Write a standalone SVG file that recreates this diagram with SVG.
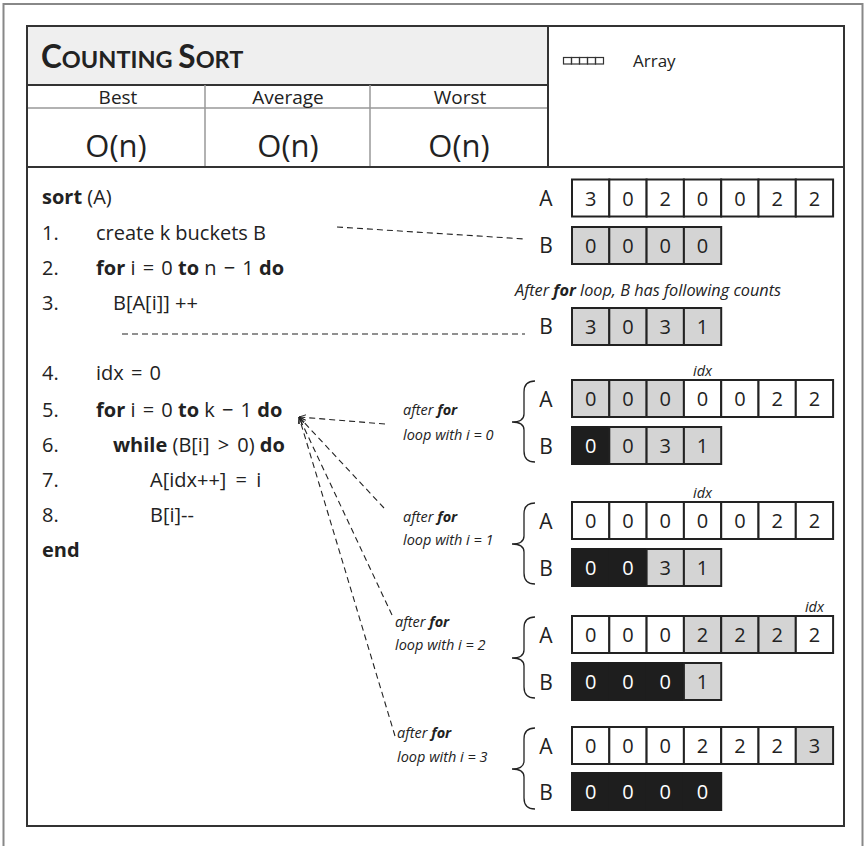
<svg xmlns="http://www.w3.org/2000/svg" width="868" height="846" viewBox="0 0 868 846">
<defs>
<style>
text{font-family:"Open Sans","Noto Sans","Liberation Sans",sans-serif;fill:#222}
.code{font-size:20px}
.b{font-weight:700}
.lbl{font-size:21px;text-anchor:middle}
.d{font-size:20px;text-anchor:middle}
.dw{font-size:20px;text-anchor:middle;fill:#fff}
.w{fill:#fff;stroke:#222;stroke-width:2}
.g{fill:#d4d4d4;stroke:#222;stroke-width:2}
.k{fill:#1e1e1e;stroke:#1e1e1e;stroke-width:2}
.note{font-size:14.5px;font-style:italic}
.cap{font-size:16.3px;font-style:italic}
.brace{fill:none;stroke:#222;stroke-width:1.3}
.dash{fill:none;stroke:#222;stroke-width:1.1;stroke-dasharray:6 4}
.hd{font-size:19px;text-anchor:middle}
.on{font-size:31px;text-anchor:middle}
</style>
<marker id="ar" viewBox="0 0 10 10" refX="10" refY="5" markerWidth="7" markerHeight="7" orient="auto" markerUnits="userSpaceOnUse">
<path d="M0,1 L10,5 L0,9" fill="none" stroke="#222" stroke-width="1.3"/>
</marker>
</defs>
<rect x="0" y="0" width="868" height="846" fill="#fff"/>
<rect x="3.5" y="4" width="859" height="900" fill="none" stroke="#888" stroke-width="2"/>
<g id="header">
<rect x="27" y="26" width="817" height="800" fill="#fff"/>
<rect x="27" y="26" width="521" height="59" fill="#efefef"/>
<line x1="27" y1="85" x2="548" y2="85" stroke="#333" stroke-width="2"/>
<line x1="27" y1="108" x2="548" y2="108" stroke="#999" stroke-width="1.5"/>
<line x1="205" y1="85" x2="205" y2="167" stroke="#999" stroke-width="1.5"/>
<line x1="370" y1="85" x2="370" y2="167" stroke="#999" stroke-width="1.5"/>
<line x1="548" y1="26" x2="548" y2="167" stroke="#333" stroke-width="2"/>
<line x1="27" y1="167" x2="844" y2="167" stroke="#333" stroke-width="2"/>
<rect x="27" y="26" width="817" height="800" fill="none" stroke="#333" stroke-width="2"/>
<text x="41" y="68" font-weight="700" style="font-family:Lato,'Open Sans',sans-serif"><tspan font-size="31.5">C</tspan><tspan font-size="23.5">OUNTING </tspan><tspan font-size="31.5">S</tspan><tspan font-size="23.5">ORT</tspan></text>
<text class="hd" x="118" y="104">Best</text>
<text class="hd" x="288" y="104">Average</text>
<text class="hd" x="460" y="104">Worst</text>
<text class="on" x="116" y="157">O(n)</text>
<text class="on" x="288" y="157">O(n)</text>
<text class="on" x="459" y="157">O(n)</text>
</g>
<g id="legend">
<g fill="none" stroke="#333" stroke-width="1.2">
<rect x="563.5" y="57.5" width="8" height="6.5"/><rect x="571.5" y="57.5" width="8" height="6.5"/><rect x="579.5" y="57.5" width="8" height="6.5"/><rect x="587.5" y="57.5" width="8" height="6.5"/><rect x="595.5" y="57.5" width="8" height="6.5"/>
</g>
<text x="633" y="67" font-size="17">Array</text>
</g>
<g id="code" class="code">
<text x="42" y="204"><tspan class="b">sort</tspan> (A)</text>
<text x="42" y="240">1.</text><text x="96" y="240">create k buckets B</text>
<text x="42" y="275">2.</text><text x="96" y="275"><tspan class="b">for</tspan> i <tspan dx="2">=</tspan> <tspan dx="2">0</tspan> <tspan class="b">to</tspan> n <tspan dx="2">−</tspan> <tspan dx="2">1</tspan> <tspan class="b">do</tspan></text>
<text x="42" y="310">3.</text><text x="113" y="310">B[A[i]] ++</text>
<text x="42" y="380">4.</text><text x="96" y="380">idx <tspan dx="2">=</tspan> <tspan dx="2">0</tspan></text>
<text x="42" y="417">5.</text><text x="96" y="417"><tspan class="b">for</tspan> i <tspan dx="2">=</tspan> <tspan dx="2">0</tspan> <tspan class="b">to</tspan> k <tspan dx="2">−</tspan> <tspan dx="2">1</tspan> <tspan class="b">do</tspan></text>
<text x="42" y="452">6.</text><text x="113" y="452"><tspan class="b">while</tspan> (B[i] <tspan dx="3">&gt;</tspan> <tspan dx="3">0)</tspan> <tspan class="b">do</tspan></text>
<text x="42" y="487">7.</text><text x="150" y="487">A[idx++] <tspan dx="4">=</tspan> <tspan dx="4">i</tspan></text>
<text x="42" y="522">8.</text><text x="150" y="522">B[i]--</text>
<text x="42" y="557" class="b">end</text>
</g>
<g id="connectors">
<line class="dash" x1="337" y1="227" x2="525" y2="239"/>
<line class="dash" x1="122" y1="334" x2="525" y2="334"/>
<line class="dash" x1="385" y1="424" x2="299" y2="417" marker-end="url(#ar)"/>
<line class="dash" x1="384" y1="508" x2="299" y2="417" marker-end="url(#ar)"/>
<line class="dash" x1="392" y1="615" x2="299" y2="417" marker-end="url(#ar)"/>
<line class="dash" x1="395" y1="736" x2="299" y2="417" marker-end="url(#ar)"/>
</g>
<g id="initial">
<text class="lbl" x="546" y="206">A</text>
<rect class="w" x="572" y="179.5" width="37.3" height="37"/><rect class="w" x="609.3" y="179.5" width="37.3" height="37"/><rect class="w" x="646.6" y="179.5" width="37.3" height="37"/><rect class="w" x="683.9" y="179.5" width="37.3" height="37"/><rect class="w" x="721.2" y="179.5" width="37.3" height="37"/><rect class="w" x="758.5" y="179.5" width="37.3" height="37"/><rect class="w" x="795.8" y="179.5" width="37.3" height="37"/>
<text class="d" x="590.65" y="205.5">3</text><text class="d" x="627.95" y="205.5">0</text><text class="d" x="665.25" y="205.5">2</text><text class="d" x="702.55" y="205.5">0</text><text class="d" x="739.85" y="205.5">0</text><text class="d" x="777.15" y="205.5">2</text><text class="d" x="814.45" y="205.5">2</text>
<text class="lbl" x="546" y="253">B</text>
<rect class="g" x="572" y="227" width="37.3" height="37"/><rect class="g" x="609.3" y="227" width="37.3" height="37"/><rect class="g" x="646.6" y="227" width="37.3" height="37"/><rect class="g" x="683.9" y="227" width="37.3" height="37"/>
<text class="d" x="590.65" y="253">0</text><text class="d" x="627.95" y="253">0</text><text class="d" x="665.25" y="253">0</text><text class="d" x="702.55" y="253">0</text>
</g>
<g id="counts">
<text class="cap" x="515" y="296">After <tspan class="b">for</tspan> loop, B has following counts</text>
<text class="lbl" x="546" y="334">B</text>
<rect class="g" x="572" y="308" width="37.3" height="37"/><rect class="g" x="609.3" y="308" width="37.3" height="37"/><rect class="g" x="646.6" y="308" width="37.3" height="37"/><rect class="g" x="683.9" y="308" width="37.3" height="37"/>
<text class="d" x="590.65" y="334">3</text><text class="d" x="627.95" y="334">0</text><text class="d" x="665.25" y="334">3</text><text class="d" x="702.55" y="334">1</text>
</g>
<g id="step0">
<text class="note" x="403" y="415">after <tspan class="b">for</tspan></text>
<text class="note" x="403" y="440">loop with i = 0</text>
<path class="brace" d="M535,381 Q524,381 524,392 L524,414 Q524,422 512,422 Q524,422 524,430 L524,451 Q524,462 535,462"/>
<text class="note" x="702.55" y="376" text-anchor="middle">idx</text>
<text class="lbl" x="546" y="407">A</text>
<rect class="g" x="572" y="380" width="37.3" height="37"/><rect class="g" x="609.3" y="380" width="37.3" height="37"/><rect class="g" x="646.6" y="380" width="37.3" height="37"/><rect class="w" x="683.9" y="380" width="37.3" height="37"/><rect class="w" x="721.2" y="380" width="37.3" height="37"/><rect class="w" x="758.5" y="380" width="37.3" height="37"/><rect class="w" x="795.8" y="380" width="37.3" height="37"/>
<text class="d" x="590.65" y="406">0</text><text class="d" x="627.95" y="406">0</text><text class="d" x="665.25" y="406">0</text><text class="d" x="702.55" y="406">0</text><text class="d" x="739.85" y="406">0</text><text class="d" x="777.15" y="406">2</text><text class="d" x="814.45" y="406">2</text>
<text class="lbl" x="546" y="454">B</text>
<rect class="k" x="572" y="427" width="37.3" height="37"/><rect class="g" x="609.3" y="427" width="37.3" height="37"/><rect class="g" x="646.6" y="427" width="37.3" height="37"/><rect class="g" x="683.9" y="427" width="37.3" height="37"/>
<text class="dw" x="590.65" y="453">0</text><text class="d" x="627.95" y="453">0</text><text class="d" x="665.25" y="453">3</text><text class="d" x="702.55" y="453">1</text>
</g>
<g id="step1">
<text class="note" x="403" y="522">after <tspan class="b">for</tspan></text>
<text class="note" x="403" y="545">loop with i = 1</text>
<path class="brace" d="M535,503 Q524,503 524,514 L524,536 Q524,544 512,544 Q524,544 524,552 L524,573 Q524,584 535,584"/>
<text class="note" x="702.55" y="498" text-anchor="middle">idx</text>
<text class="lbl" x="546" y="529">A</text>
<rect class="w" x="572" y="502" width="37.3" height="37"/><rect class="w" x="609.3" y="502" width="37.3" height="37"/><rect class="w" x="646.6" y="502" width="37.3" height="37"/><rect class="w" x="683.9" y="502" width="37.3" height="37"/><rect class="w" x="721.2" y="502" width="37.3" height="37"/><rect class="w" x="758.5" y="502" width="37.3" height="37"/><rect class="w" x="795.8" y="502" width="37.3" height="37"/>
<text class="d" x="590.65" y="528">0</text><text class="d" x="627.95" y="528">0</text><text class="d" x="665.25" y="528">0</text><text class="d" x="702.55" y="528">0</text><text class="d" x="739.85" y="528">0</text><text class="d" x="777.15" y="528">2</text><text class="d" x="814.45" y="528">2</text>
<text class="lbl" x="546" y="576">B</text>
<rect class="k" x="572" y="549" width="37.3" height="37"/><rect class="k" x="609.3" y="549" width="37.3" height="37"/><rect class="g" x="646.6" y="549" width="37.3" height="37"/><rect class="g" x="683.9" y="549" width="37.3" height="37"/>
<text class="dw" x="590.65" y="575">0</text><text class="dw" x="627.95" y="575">0</text><text class="d" x="665.25" y="575">3</text><text class="d" x="702.55" y="575">1</text>
</g>
<g id="step2">
<text class="note" x="395" y="627">after <tspan class="b">for</tspan></text>
<text class="note" x="395" y="650">loop with i = 2</text>
<path class="brace" d="M535,617 Q524,617 524,628 L524,650 Q524,658 512,658 Q524,658 524,666 L524,687 Q524,698 535,698"/>
<text class="note" x="814.45" y="612" text-anchor="middle">idx</text>
<text class="lbl" x="546" y="643">A</text>
<rect class="w" x="572" y="616" width="37.3" height="37"/><rect class="w" x="609.3" y="616" width="37.3" height="37"/><rect class="w" x="646.6" y="616" width="37.3" height="37"/><rect class="g" x="683.9" y="616" width="37.3" height="37"/><rect class="g" x="721.2" y="616" width="37.3" height="37"/><rect class="g" x="758.5" y="616" width="37.3" height="37"/><rect class="w" x="795.8" y="616" width="37.3" height="37"/>
<text class="d" x="590.65" y="642">0</text><text class="d" x="627.95" y="642">0</text><text class="d" x="665.25" y="642">0</text><text class="d" x="702.55" y="642">2</text><text class="d" x="739.85" y="642">2</text><text class="d" x="777.15" y="642">2</text><text class="d" x="814.45" y="642">2</text>
<text class="lbl" x="546" y="690">B</text>
<rect class="k" x="572" y="663" width="37.3" height="37"/><rect class="k" x="609.3" y="663" width="37.3" height="37"/><rect class="k" x="646.6" y="663" width="37.3" height="37"/><rect class="g" x="683.9" y="663" width="37.3" height="37"/>
<text class="dw" x="590.65" y="689">0</text><text class="dw" x="627.95" y="689">0</text><text class="dw" x="665.25" y="689">0</text><text class="d" x="702.55" y="689">1</text>
</g>
<g id="step3">
<text class="note" x="397" y="738">after <tspan class="b">for</tspan></text>
<text class="note" x="397" y="762">loop with i = 3</text>
<path class="brace" d="M535,728 Q524,728 524,739 L524,761 Q524,769 512,769 Q524,769 524,777 L524,798 Q524,809 535,809"/>
<text class="lbl" x="546" y="754">A</text>
<rect class="w" x="572" y="727" width="37.3" height="37"/><rect class="w" x="609.3" y="727" width="37.3" height="37"/><rect class="w" x="646.6" y="727" width="37.3" height="37"/><rect class="w" x="683.9" y="727" width="37.3" height="37"/><rect class="w" x="721.2" y="727" width="37.3" height="37"/><rect class="w" x="758.5" y="727" width="37.3" height="37"/><rect class="g" x="795.8" y="727" width="37.3" height="37"/>
<text class="d" x="590.65" y="753">0</text><text class="d" x="627.95" y="753">0</text><text class="d" x="665.25" y="753">0</text><text class="d" x="702.55" y="753">2</text><text class="d" x="739.85" y="753">2</text><text class="d" x="777.15" y="753">2</text><text class="d" x="814.45" y="753">3</text>
<text class="lbl" x="546" y="800">B</text>
<rect class="k" x="572" y="773" width="37.3" height="37"/><rect class="k" x="609.3" y="773" width="37.3" height="37"/><rect class="k" x="646.6" y="773" width="37.3" height="37"/><rect class="k" x="683.9" y="773" width="37.3" height="37"/>
<text class="dw" x="590.65" y="799">0</text><text class="dw" x="627.95" y="799">0</text><text class="dw" x="665.25" y="799">0</text><text class="dw" x="702.55" y="799">0</text>
</g>
</svg>
